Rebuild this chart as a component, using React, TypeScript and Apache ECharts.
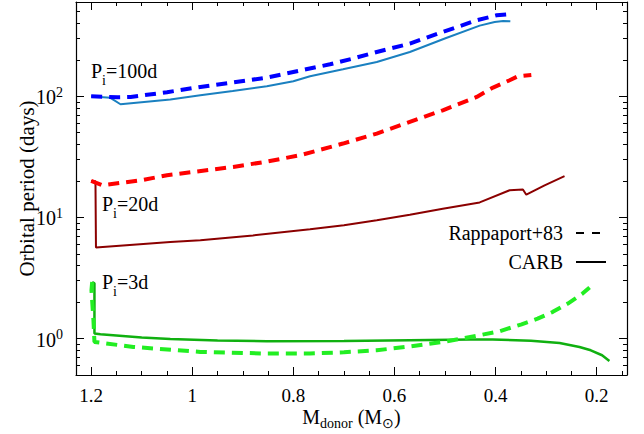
import React, { useEffect, useRef } from 'react';
import * as echarts from 'echarts';

// ---- ticks ----
const xMajorTicks = [1.2, 1, 0.8, 0.6, 0.4, 0.2];
const xMinorTicks = [0.15, 0.25, 0.3, 0.35, 0.45, 0.5, 0.55, 0.65, 0.7, 0.75, 0.85, 0.9, 0.95, 1.05, 1.1, 1.15];
const yMajorTicks = [1, 10, 100];
const yMinorTicks = [0.5, 0.6, 0.7, 0.8, 0.9, 2, 3, 4, 5, 6, 7, 8, 9, 20, 30, 40, 50, 60, 70, 80, 90, 200, 300, 400, 500];

// ---- legend entries ----
const legendNames = ['Rappaport+83', 'CARB'];

// ---- series data: [donor mass (Msun), orbital period (days)] ----
const rappaport100 = [
  [1.2, 100], [1.148, 98.2], [1.122, 98.7], [1.05, 108], [0.984, 119.4], [0.92, 130], [0.8525, 142.6],
  [0.79, 162], [0.7275, 183.7], [0.68, 206], [0.635, 232], [0.5696, 272], [0.5044, 339.5],
  [0.4373, 424], [0.3978, 466], [0.3755, 475],
];
const carb100 = [
  [1.2, 100], [1.176, 98.2], [1.162, 97], [1.142, 85.9], [1.0434, 94.0], [0.984, 101.9], [0.92, 110.5],
  [0.8525, 120.9], [0.80, 133], [0.767, 146.3], [0.7019, 167], [0.635, 192], [0.5696, 232],
  [0.5004, 300], [0.4314, 383], [0.4018, 410], [0.385, 418], [0.3708, 416],
];
const rappaport20 = [
  [1.2, 20.0], [1.178, 18.4], [1.1, 20.3], [1.05, 22.3], [0.919, 26.1], [0.85, 29], [0.7867, 32.6],
  [0.7019, 40.7], [0.635, 49.2], [0.5696, 61.4], [0.5044, 76.6], [0.4373, 98.7], [0.405, 118],
  [0.3722, 135.6], [0.356, 146], [0.3293, 150],
];
const carb20 = [
  [1.2, 20], [1.1915, 19.9], [1.1905, 5.64], [1.0434, 6.27], [0.984, 6.48], [0.88, 7.1], [0.767, 7.98],
  [0.70, 8.6], [0.635, 9.47], [0.5696, 10.5], [0.5044, 11.8], [0.4314, 13.3], [0.3722, 16.75], [0.3459, 17.0],
  [0.3392, 15.4], [0.303, 18.4], [0.2636, 21.9],
];
const carb3 = [
  [1.198, 2.93], [1.1935, 2.86], [1.1935, 1.10], [1.1816, 1.085], [1.10, 1.02], [1.0434, 0.99],
  [0.95, 0.965], [0.8525, 0.95], [0.70, 0.955], [0.5696, 0.968], [0.45, 0.98], [0.4057, 0.98],
  [0.33, 0.96], [0.2734, 0.92], [0.234, 0.852], [0.2116, 0.80], [0.1893, 0.728], [0.1748, 0.653],
];
const rappaport3 = [
  [1.198, 2.93], [1.1994, 2.5], [1.1955, 1.42], [1.1935, 0.937], [1.1165, 0.852], [0.984, 0.775],
  [0.8525, 0.752], [0.767, 0.752], [0.70, 0.77], [0.635, 0.80], [0.57, 0.86], [0.5044, 0.937],
  [0.4314, 1.065], [0.392, 1.149], [0.3485, 1.31], [0.3168, 1.46], [0.2867, 1.66],
  [0.257, 1.945], [0.228, 2.35], [0.214, 2.64],
];

const FONT = 'Liberation Serif, Times New Roman, serif';
const X_MIN = 0.14;
const X_MAX = 1.23;
const Y_MIN = 0.5;
const Y_MAX = 600;

function xAxisDef(position: 'top' | 'bottom', ticks: number[], len: number, main: boolean, showLine: boolean) {
  return {
    type: 'value',
    position,
    min: X_MIN,
    max: X_MAX,
    inverse: true,
    axisLine: { show: showLine, onZero: false, lineStyle: { color: '#000', width: 1.2 } },
    axisTick: { show: true, inside: true, length: len, customValues: ticks, lineStyle: { color: '#000', width: 1 } },
    axisLabel: main
      ? {
          show: true,
          customValues: xMajorTicks,
          margin: 12,
          color: '#000',
          fontFamily: FONT,
          fontSize: 19,
          lineHeight: 16,
          formatter: (v: number) => String(Math.round(v * 10) / 10),
        }
      : { show: false },
    splitLine: { show: false },
    ...(main
      ? {
          name: '{m|M}{d|donor}{m| (M}{d|\u2299}{m|)}',
          nameLocation: 'middle',
          nameGap: 32,
          nameMoveOverlap: false,
          nameTextStyle: {
            color: '#000',
            fontFamily: FONT,
            rich: {
              m: { fontSize: 20, fontFamily: FONT, color: '#000', verticalAlign: 'top', lineHeight: 18 },
              d: { fontSize: 14, fontFamily: FONT, color: '#000', verticalAlign: 'bottom', padding: [9, 0, 0, 0] },
            },
          },
        }
      : {}),
  };
}

function yAxisDef(position: 'left' | 'right', ticks: number[], len: number, main: boolean, showLine: boolean) {
  return {
    type: 'log',
    logBase: 10,
    position,
    min: Y_MIN,
    max: Y_MAX,
    axisLine: { show: showLine, onZero: false, lineStyle: { color: '#000', width: 1.2 } },
    axisTick: { show: true, inside: true, length: len, customValues: ticks, lineStyle: { color: '#000', width: 1 } },
    axisLabel: main
      ? {
          show: true,
          customValues: yMajorTicks,
          margin: 13,
          color: '#000',
          fontFamily: FONT,
          formatter: (v: number) => `{b|10}{s|${Math.round(Math.log10(v))}}`,
          rich: {
            b: { fontSize: 20, fontFamily: FONT, color: '#000', verticalAlign: 'bottom', lineHeight: 22 },
            s: { fontSize: 14, fontFamily: FONT, color: '#000', verticalAlign: 'top', lineHeight: 14 },
          },
        }
      : { show: false },
    splitLine: { show: false },
    minorTick: { show: false },
    ...(main
      ? {
          name: 'Orbital period (days)',
          nameLocation: 'middle',
          nameGap: 39,
          nameMoveOverlap: false,
          nameTextStyle: { color: '#000', fontFamily: FONT, fontSize: 21 },
        }
      : {}),
  };
}

const pRich = {
  n: { fontSize: 20, fontFamily: FONT, fill: '#000', verticalAlign: 'top', lineHeight: 20 },
  i: { fontSize: 14, fontFamily: FONT, fill: '#000', verticalAlign: 'bottom', padding: [12, 0, 0, 0] },
};

function pLabel(x: number, y: number, text: string) {
  return {
    type: 'text',
    x,
    y,
    style: { text, rich: pRich, fill: '#000', fontFamily: FONT, fontSize: 20 },
  };
}

function lineSeries(name: string, data: number[][], color: string, width: number, dashed: boolean, z: number) {
  return {
    name,
    type: 'line',
    data,
    xAxisIndex: 0,
    yAxisIndex: 0,
    symbol: 'none',
    smooth: false,
    z,
    lineStyle: { color, width, type: dashed ? [11, 7] : 'solid' },
    itemStyle: { color },
    emphasis: { disabled: true },
  };
}

export default function App() {
  const ref = useRef<HTMLDivElement>(null);
  useEffect(() => {
    if (!ref.current) return;
    const chart = echarts.init(ref.current, undefined, { renderer: 'svg' });
    const option: any = {
      animation: false,
      backgroundColor: '#fff',
      textStyle: { fontFamily: FONT },
      grid: { left: 76, right: 17, top: 2, bottom: 59, outerBoundsMode: 'none' },
      xAxis: [
        xAxisDef('bottom', xMajorTicks, 8, true, true),
        xAxisDef('bottom', xMinorTicks, 4, false, false),
        xAxisDef('top', xMajorTicks, 8, false, true),
        xAxisDef('top', xMinorTicks, 4, false, false),
      ],
      yAxis: [
        yAxisDef('left', yMajorTicks, 8, true, true),
        yAxisDef('left', yMinorTicks, 4, false, false),
        yAxisDef('right', yMajorTicks, 8, false, true),
        yAxisDef('right', yMinorTicks, 4, false, false),
      ],
      legend: {
        data: legendNames,
        orient: 'vertical',
        right: 32,
        top: 218,
        align: 'right',
        itemWidth: 30,
        itemHeight: 12,
        itemGap: 9,
        selectedMode: false,
        itemStyle: { color: 'transparent', borderColor: 'transparent', borderWidth: 0, opacity: 0 },
        textStyle: { color: '#000', fontFamily: FONT, fontSize: 20, padding: [0, 8, 0, 0] },
      },
      graphic: [
        pLabel(91, 61, '{n|P}{i|i}{n|=100d}'),
        pLabel(102, 194, '{n|P}{i|i}{n|=20d}'),
        pLabel(102, 272, '{n|P}{i|i}{n|=3d}'),
      ],
      series: [
        { name: legendNames[0], type: 'line', data: [], symbol: 'none', lineStyle: { color: '#000', width: 3, type: [8, 8] }, itemStyle: { color: '#000' } },
        { name: legendNames[1], type: 'line', data: [], symbol: 'none', lineStyle: { color: '#000', width: 2 }, itemStyle: { color: '#000' } },
        lineSeries('carb100', carb100, '#1a80c0', 2, false, 2),
        lineSeries('rapp100', rappaport100, '#0000ff', 4, true, 3),
        lineSeries('carb20', carb20, '#8b0000', 2, false, 2),
        lineSeries('rapp20', rappaport20, '#ff0000', 4, true, 3),
        lineSeries('carb3', carb3, '#10b010', 2.5, false, 2),
        lineSeries('rapp3', rappaport3, '#22ee22', 4, true, 3),
      ],
    };
    chart.setOption(option);
    return () => chart.dispose();
  }, []);
  return <div ref={ref} style={{ position: 'fixed', left: 0, top: 0, width: 644, height: 434 }} />;
}
